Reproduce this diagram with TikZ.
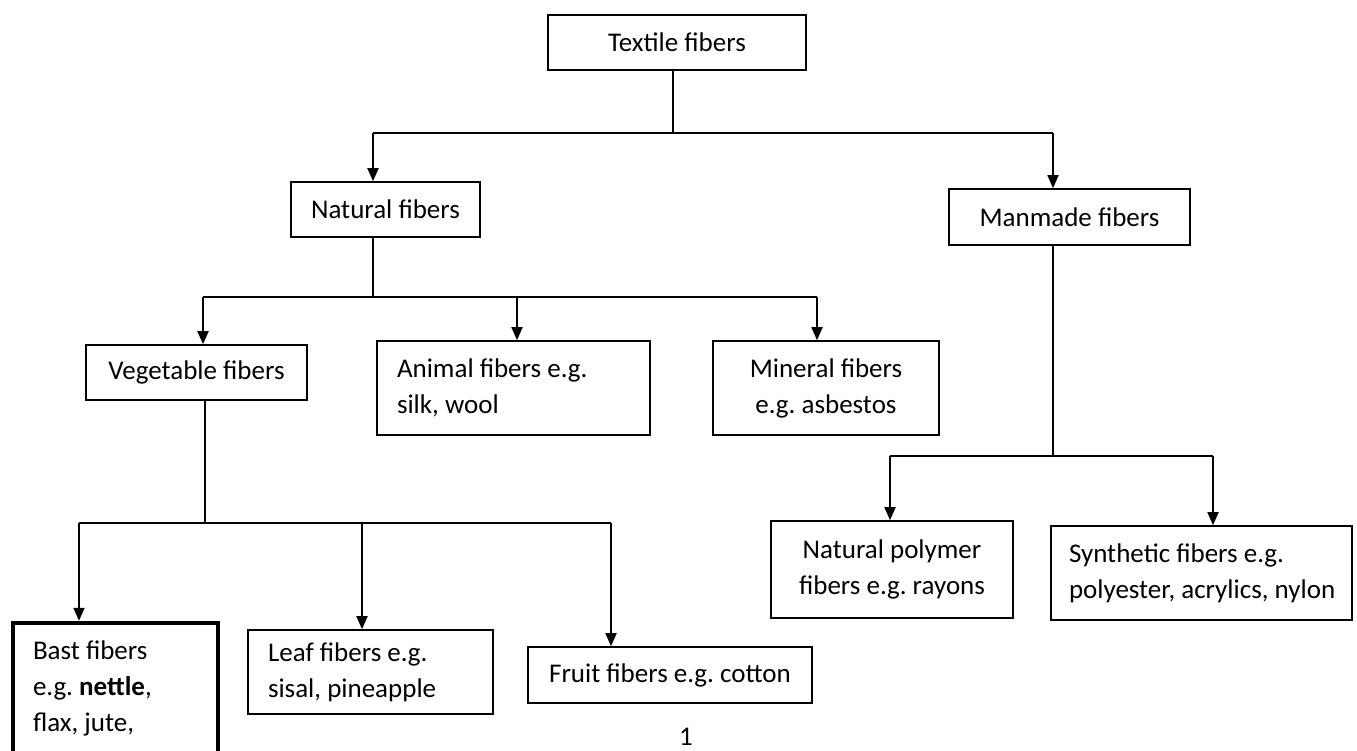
\documentclass[tikz,border=0pt]{standalone}
\usepackage{fontspec}
\setmainfont{Carlito}
\usetikzlibrary{arrows.meta}
\frenchspacing
\newcommand{\setup}{
    \coordinate (t0) at (673,133);  % textile stem
    \coordinate (n0) at (373,133);
    \coordinate (m0) at (1053,133);

    \coordinate (t1) at (373,297);  % natural stem
    \coordinate (v0) at (203,297);
    \coordinate (a0) at (517,297);
    \coordinate (r0) at (817,297);

    \coordinate (t2) at (205,523);  % vegetable stem
    \coordinate (b0) at (79,523);
    \coordinate (l0) at (362,523);
    \coordinate (f0) at (611,523);

    \coordinate (t3) at (1053,456); % manmade stem
    \coordinate (p0) at (890,456);
    \coordinate (s0) at (1213,456);
}
\newcommand{\lines}[2]{\spaceskip=0pt\xspaceskip=0pt\begin{tabular}{@{}#1@{}}#2\end{tabular}}
\tikzset{
    fbox/.style={draw,line width=1.6pt,inner xsep=20pt,inner ysep=0pt,
                 font=\fontsize{27}{36}\selectfont},
    link/.style={line width=1.8pt},
    arrow/.style={line width=1.8pt,-{Triangle[length=13pt,width=11pt]}}
}

\begin{document}
\begin{tikzpicture}[x=1pt,y=-1pt]
    \useasboundingbox (0,0) rectangle (1357,751);
    \clip (0,0) rectangle (1357,751);
    \setup;

    \node[fbox,minimum width=258pt,minimum height=55pt] (textile) at (677,42.5) {Textile fibers};
    \node[fbox,minimum width=189pt,minimum height=55pt] (natural) at (385.5,209.5) {Natural fibers};
    \node[fbox,minimum width=241pt,minimum height=56pt] (manmade) at (1069.5,217) {Manmade fibers};

    \node[fbox,minimum width=221pt,minimum height=55pt] (vegetable) at (196.5,372.5) {Vegetable fibers};
    \node[fbox,text width=233pt,minimum height=94pt] (animal) at (513.5,388) {\lines{l}{Animal fibers e.g.\\silk, wool}};
    \node[fbox,minimum width=226pt,minimum height=94pt] (mineral) at (826,388) {\lines{c}{Mineral fibers\\e.g. asbestos}};

    \node[fbox,minimum width=242pt,minimum height=97pt] (natpoly) at (892,569.5) {\lines{c}{Natural polymer\\fibers e.g. rayons}};
    \node[fbox,inner xsep=18pt,text width=265pt,minimum height=94pt] (synth) at (1201.5,573) {\lines{l}{Synthetic fibers e.g.\\polyester, acrylics, nylon}};

    \node[fbox,line width=4.5pt,text width=165pt,minimum height=167pt] (bast) at (115.5,706.5) {\lines{l}{Bast fibers\\e.g. \textbf{nettle},\\flax, jute,\\\mbox{}}};
    \node[fbox,text width=205pt,minimum height=84pt] (leaf) at (370.5,672) {\lines{l}{Leaf fibers e.g.\\sisal, pineapple}};
    \node[fbox,minimum width=284pt,minimum height=56pt] (fruit) at (670,675) {Fruit fibers e.g. cotton};

    \node[inner sep=0pt,font=\fontsize{27}{36}\selectfont] (pagenum) at (686,737) {1};

    % textile fibers
    \draw[link] (textile.south -| t0) -- (t0);
    \draw[link] (n0) -- (m0);
    \draw[arrow] (n0) -- (n0 |- natural.north);
    \draw[arrow] (m0) -- (m0 |- manmade.north);

    % natural fibers
    \draw[link] (natural.south -| t1) -- (t1);
    \draw[link] (v0) -- (r0);
    \draw[arrow] (v0) -- (v0 |- vegetable.north);
    \draw[arrow] (a0) -- (a0 |- animal.north);
    \draw[arrow] (r0) -- (r0 |- mineral.north);

    % vegetable fibers
    \draw[link] (vegetable.south -| t2) -- (t2);
    \draw[link] (b0) -- (f0);
    \draw[arrow] (b0) -- (b0 |- bast.north);
    \draw[arrow] (l0) -- (l0 |- leaf.north);
    \draw[arrow] (f0) -- (f0 |- fruit.north);

    % manmade fibers
    \draw[link] (manmade.south -| t3) -- (t3);
    \draw[link] (p0) -- (s0);
    \draw[arrow] (p0) -- (p0 |- natpoly.north);
    \draw[arrow] (s0) -- (s0 |- synth.north);
\end{tikzpicture}
\end{document}
